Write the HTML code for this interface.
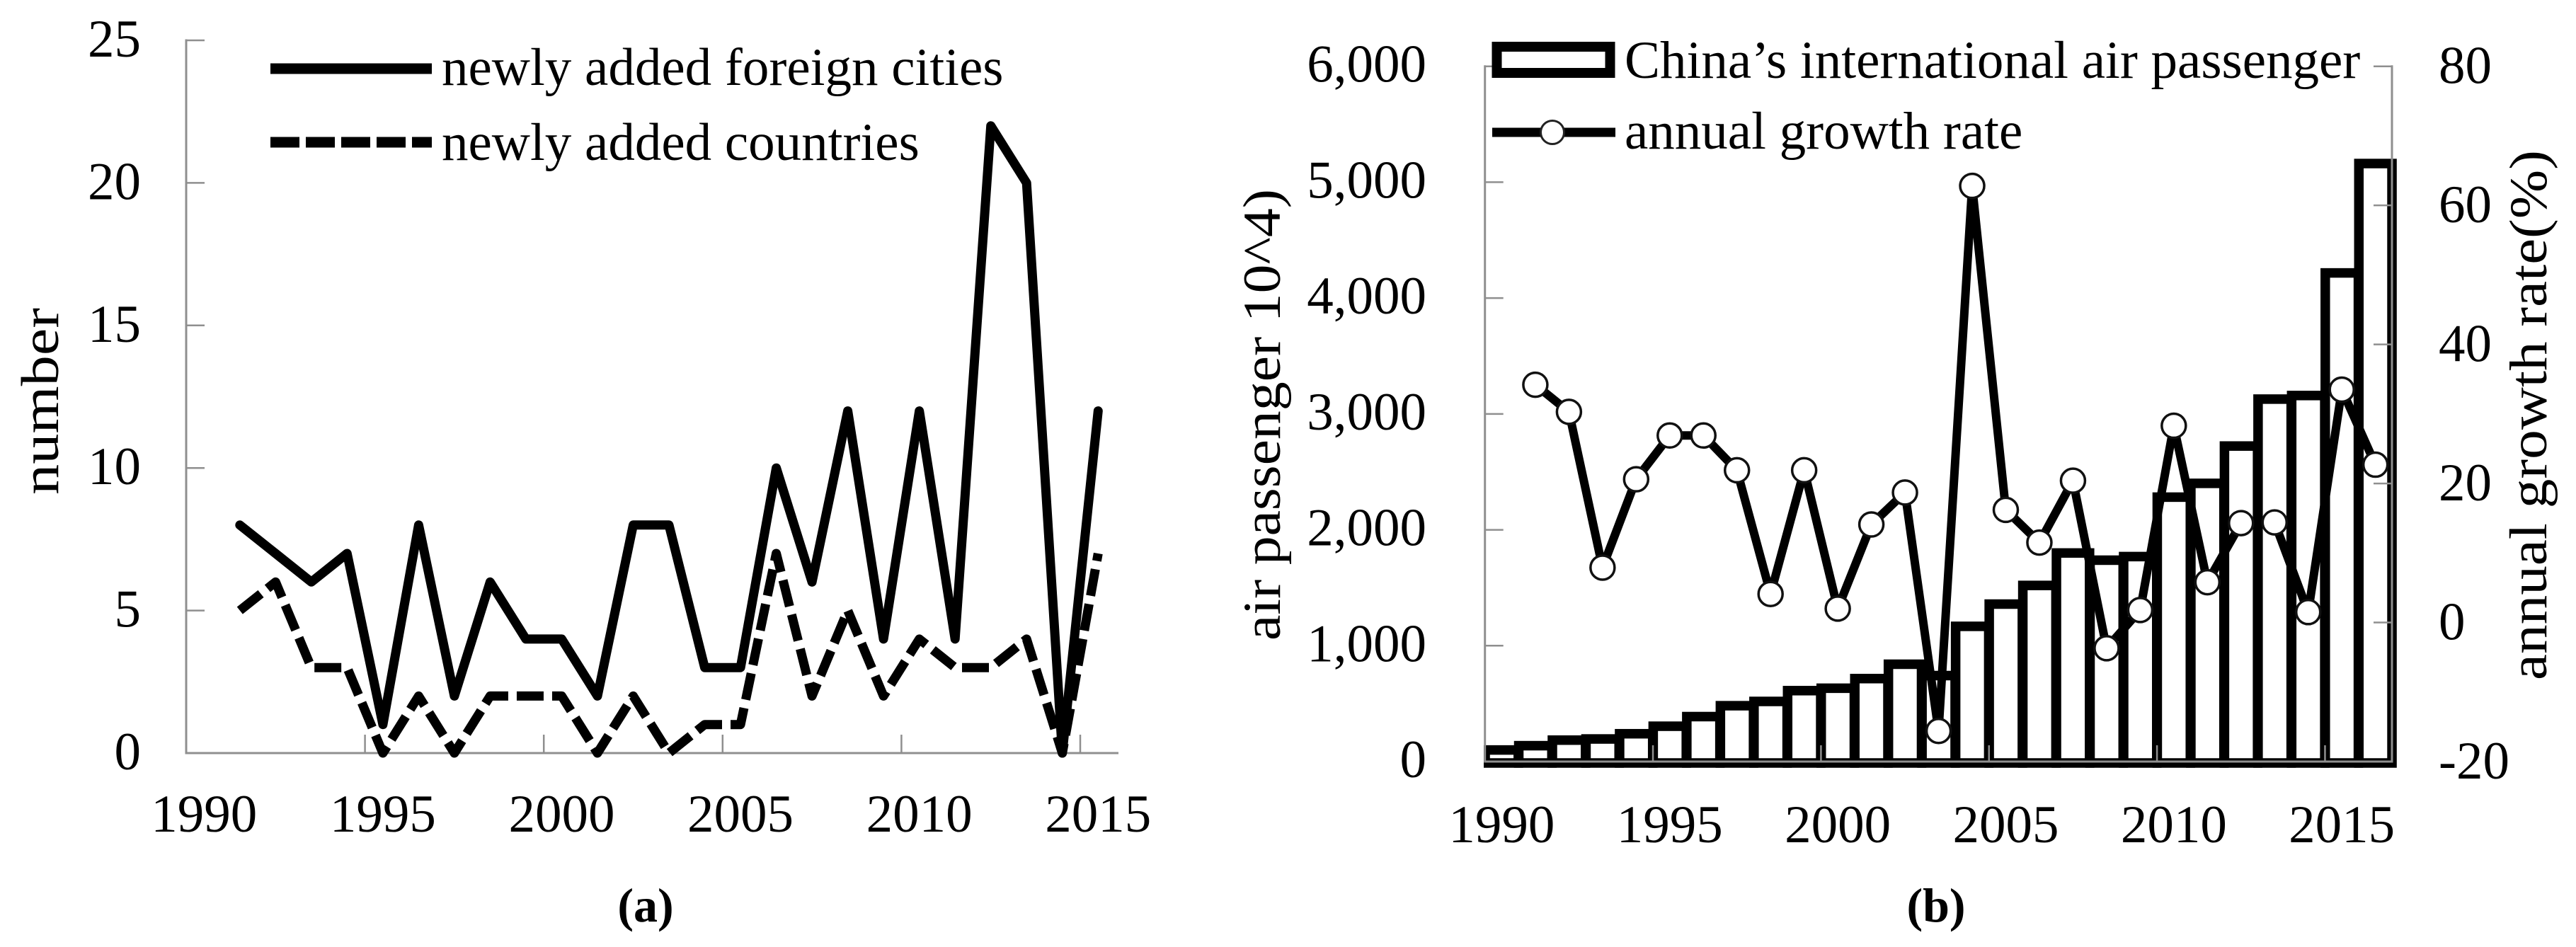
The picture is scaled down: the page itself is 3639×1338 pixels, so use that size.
<!DOCTYPE html>
<html lang="en">
<head>
<meta charset="utf-8">
<title>International air routes and passengers</title>
<style>
html,body{margin:0;padding:0;background:#fff;width:3639px;height:1338px;overflow:hidden}
svg{display:block}
text{font-family:"Liberation Serif","Times New Roman",serif;font-size:75px;fill:#000}
</style>
</head>
<body>
<svg id="fig" xmlns="http://www.w3.org/2000/svg" width="3639" height="1338" viewBox="0 0 3639 1338">
  <defs><clipPath id="plotClip"><rect x="2096" y="0" width="1291" height="1086"/></clipPath></defs>
  <g id="chartA"></g>
  <g id="chartB"></g>

  <text transform="translate(82,699) rotate(-90)" textLength="264" lengthAdjust="spacingAndGlyphs">number</text>
  <g>
    <line x1="382" y1="97" x2="610" y2="97" stroke="#000" stroke-width="15"/>
    <text x="624" y="120">newly added foreign cities</text>
    <line x1="382" y1="201" x2="610" y2="201" stroke="#000" stroke-width="15" stroke-dasharray="41 9"/>
    <text x="624" y="226">newly added countries</text>
  </g>
  <text x="912" y="1302" text-anchor="middle" font-weight="bold" style="font-size:68px">(a)</text>

  <text transform="translate(1808,905) rotate(-90)" textLength="638" lengthAdjust="spacingAndGlyphs">air passenger 10^4)</text>
  <text transform="translate(3597,961) rotate(-90)" textLength="749" lengthAdjust="spacingAndGlyphs">annual growth rate(%)</text>
  <g>
    <rect x="2114.5" y="66" width="160" height="37" fill="#fff" stroke="#000" stroke-width="14"/>
    <text x="2295" y="110">China’s international air passenger</text>
    <line x1="2108" y1="187" x2="2282" y2="187" stroke="#000" stroke-width="13"/>
    <circle cx="2193" cy="187" r="16.5" fill="#fff" stroke="#222" stroke-width="3"/>
    <text x="2295" y="210">annual growth rate</text>
  </g>
  <text x="2735" y="1302" text-anchor="middle" font-weight="bold" style="font-size:68px">(b)</text>
</svg>
<script>
// Chart (a) data
const yearsA = [1991,1992,1993,1994,1995,1996,1997,1998,1999,2000,2001,2002,2003,2004,2005,2006,2007,2008,2009,2010,2011,2012,2013,2014,2015];
const foreignCities = [8,7,6,7,1,8,2,6,4,4,2,8,8,3,3,10,6,12,4,12,4,22,20,0,12];
const countries = [5,6,3,3,0,2,0,2,2,2,0,2,0,1,1,7,2,5,2,4,3,3,4,0,7];
const yTicksA = [0,5,10,15,20,25];
const xTicksA = [1990,1995,2000,2005,2010,2015];

// Chart (b) data
const yearsB = [1990,1991,1992,1993,1994,1995,1996,1997,1998,1999,2000,2001,2002,2003,2004,2005,2006,2007,2008,2009,2010,2011,2012,2013,2014,2015,2016];
const passengers = [100,137,185,195,240,305,388,482,519,612,633,716,840,742,1167,1359,1520,1800,1738,1769,2282,2401,2723,3128,3159,4217,5161];
const growthYears = [1991,1992,1993,1994,1995,1996,1997,1998,1999,2000,2001,2002,2003,2004,2005,2006,2007,2008,2009,2010,2011,2012,2013,2014,2015,2016];
const growthRate = [34.2,30.3,7.9,20.6,26.9,26.9,21.9,4.1,21.9,2.0,14.1,18.7,-15.6,62.8,16.2,11.5,20.4,-3.7,1.8,28.3,5.8,14.3,14.4,1.5,33.5,22.7];
const yTicksLeft = [0,1000,2000,3000,4000,5000,6000];
const yTicksRight = [-20,0,20,40,60,80];
const xTicksB = [1990,1995,2000,2005,2010,2015];

const NS = 'http://www.w3.org/2000/svg';
const GRAY = '#8f8f8f';
function mk(tag, attrs, parent, txt){
  const n = document.createElementNS(NS, tag);
  for (const k in attrs) n.setAttribute(k, attrs[k]);
  if (txt !== undefined) n.textContent = txt;
  parent.appendChild(n);
  return n;
}
function fmt(v){ return String(v).replace(/\B(?=(\d{3})+$)/g, ','); }

// ---- Chart (a) ----
const A = document.getElementById('chartA');
const aLeft = 263, aRight = 1580, aZero = 1064, aTop = 57, aCat = 50.52;
const xEdgeA = y => aLeft + (y - 1990) * aCat;
const xA = y => xEdgeA(y) + aCat / 2;
const yA = v => aZero - v * (aZero - aTop) / 25;

let el = mk('line', {x1:aLeft,y1:aTop-1.5,x2:aLeft,y2:aZero+1.5,stroke:GRAY,'stroke-width':3}, A);


el = mk('line', {x1:aLeft,y1:aZero,x2:aRight,y2:aZero,stroke:GRAY,'stroke-width':3}, A);



yTicksA.forEach(v => {
  let t = mk('line', {x1:aLeft,y1:yA(v),x2:aLeft+26,y2:yA(v),stroke:GRAY,'stroke-width':2.5}, A);
  
  
  t = mk('text', {x:199,y:yA(v)+23,'text-anchor':'end'}, A, fmt(v));
  
  
});
xTicksA.forEach(y => {
  let t = mk('line', {x1:xEdgeA(y),y1:aZero,x2:xEdgeA(y),y2:aZero-26,stroke:GRAY,'stroke-width':2.5}, A);
  
  
  t = mk('text', {x:xA(y),y:1175,'text-anchor':'middle'}, A, String(y));
  
  
});

const ptsA = arr => arr.map((v,i) => xA(yearsA[i]).toFixed(1) + ',' + yA(v).toFixed(1)).join(' ');
el = mk('polyline', {points:ptsA(countries),fill:'none',stroke:'#000','stroke-width':13,'stroke-dasharray':'38 12','stroke-linejoin':'round'}, A);


el = mk('polyline', {points:ptsA(foreignCities),fill:'none',stroke:'#000','stroke-width':13,'stroke-linejoin':'round','stroke-linecap':'round'}, A);



// ---- Chart (b) ----
const B = document.getElementById('chartB');
const bLeft = 2097.7, bRight = 3379, bZero = 1076, bTop = 93.7, bCat = 47.47;
const xEdgeB = y => bLeft + (y - 1990) * bCat;
const xB = y => xEdgeB(y) + bCat / 2;
const yL = v => bZero - v * (bZero - bTop) / 6000;
const yR = v => bZero - (v + 20) * (bZero - bTop) / 100;

const barLayer = mk('g', {'clip-path':'url(#plotClip)'}, B);


const barW = bCat - 0.7;
passengers.forEach((v,i) => {
  const b = mk('rect', {x:xB(yearsB[i])-barW/2,y:yL(v),width:barW,height:yL(0)+2-yL(v),fill:'#fff',stroke:'#000','stroke-width':13.5}, barLayer);
  
  
});

el = mk('line', {x1:bLeft,y1:bTop-1.5,x2:bLeft,y2:bZero+1.5,stroke:GRAY,'stroke-width':3}, B);


el = mk('line', {x1:bRight,y1:bTop-1.5,x2:bRight,y2:bZero+1.5,stroke:GRAY,'stroke-width':3}, B);


el = mk('line', {x1:bLeft,y1:bZero,x2:bRight,y2:bZero,stroke:GRAY,'stroke-width':3}, B);



yTicksLeft.forEach(v => {
  let t = mk('line', {x1:bLeft,y1:yL(v),x2:bLeft+26,y2:yL(v),stroke:GRAY,'stroke-width':2.5}, B);
  
  
  t = mk('text', {x:2015,y:yL(v)+22,'text-anchor':'end'}, B, fmt(v));
  
  
});
yTicksRight.forEach(v => {
  let t = mk('line', {x1:bRight,y1:yR(v),x2:bRight-26,y2:yR(v),stroke:GRAY,'stroke-width':2.5}, B);
  
  
  t = mk('text', {x:3445,y:yR(v)+24}, B, String(v));
  
  
});
xTicksB.forEach(y => {
  let t = mk('line', {x1:xEdgeB(y),y1:bZero,x2:xEdgeB(y),y2:bZero-23,stroke:GRAY,'stroke-width':2.5}, B);
  
  
  t = mk('text', {x:xB(y),y:1190,'text-anchor':'middle'}, B, String(y));
  
  
});

el = mk('polyline', {points:growthRate.map((v,i) => xB(growthYears[i]).toFixed(1) + ',' + yR(v).toFixed(1)).join(' '),fill:'none',stroke:'#000','stroke-width':12,'stroke-linejoin':'round'}, B);


growthRate.forEach((v,i) => {
  const c = mk('circle', {cx:xB(growthYears[i]),cy:yR(v),r:17,fill:'#fff',stroke:'#111','stroke-width':3.5}, B);
  
  
});
</script>
</body>
</html>
